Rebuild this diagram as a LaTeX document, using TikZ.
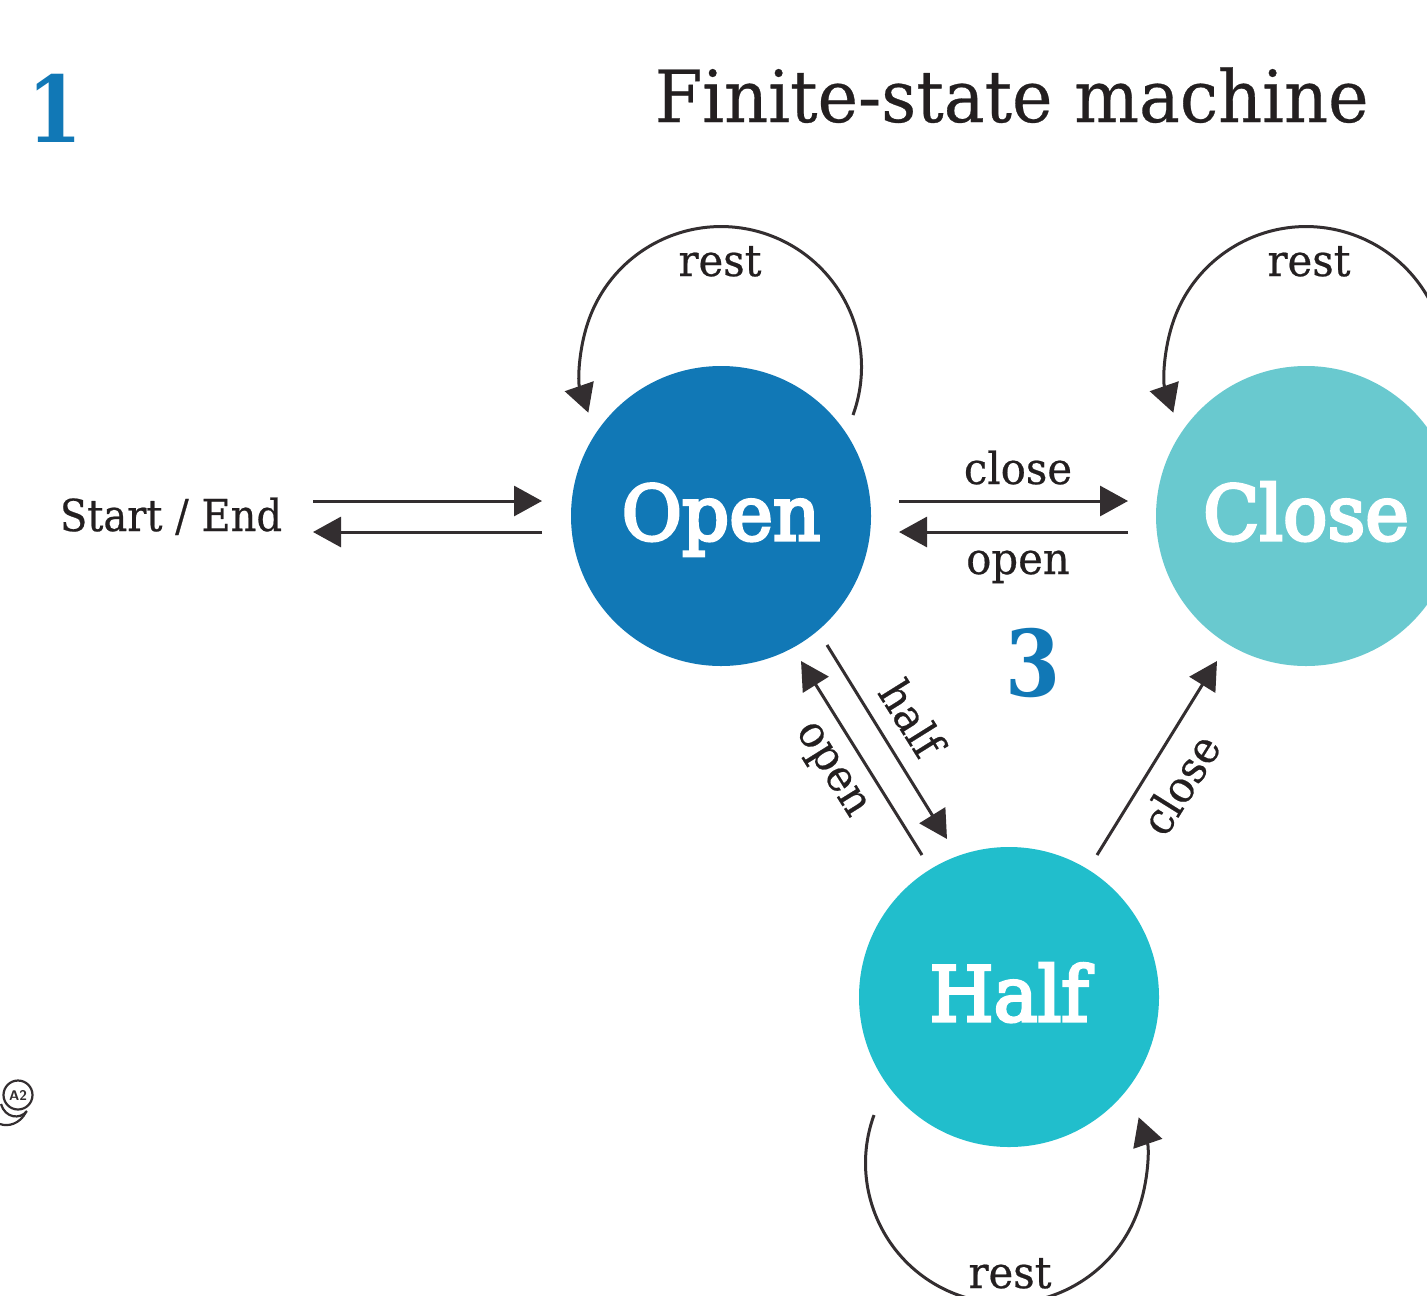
\documentclass[tikz,border=0pt]{standalone}
\usepackage{fontspec}
\setmainfont{DejaVu Serif}
\newfontfamily\titlefont{DejaVu Serif}[FakeStretch=0.95,FakeBold=0.4]
\newfontfamily\labfont{DejaVu Serif}[FakeStretch=0.95,FakeBold=0.5]
\newfontfamily\sefont{DejaVu Serif}[FakeStretch=0.91,FakeBold=0.5]
\newfontfamily\statefont{DejaVu Serif}[FakeBold=4,FakeStretch=0.97]
\newfontfamily\numfont{DejaVu Serif Bold}[FakeStretch=0.86]
\usetikzlibrary{arrows.meta}
\definecolor{ink}{HTML}{332E30}
\definecolor{txt}{HTML}{231F20}
\definecolor{cOpen}{HTML}{1178B6}
\definecolor{cClose}{HTML}{69C9CF}
\definecolor{cHalf}{HTML}{21BECC}
\tikzset{
  statenode/.style={circle,minimum size=150pt,inner sep=0pt,fill=#1},
  statelab/.style={anchor=base,text=white,inner sep=0pt,font=\statefont\fontsize{38}{38}\selectfont},
  conn/.style={draw=ink,line width=1.5pt,-{Triangle[length=14pt,width=15pt,color=ink]}},
  lab/.style={text=txt,inner sep=0pt,anchor=base,font=\labfont\fontsize{22}{22}\selectfont},
  rlab/.style={text=txt,inner sep=0pt,font=\labfont\fontsize{22}{22}\selectfont},
  numlab/.style={text=cOpen,inner sep=0pt,font=\numfont\fontsize{46}{46}\selectfont},
}
\begin{document}
\begin{tikzpicture}[x=0.5pt,y=-0.5pt]
\useasboundingbox (0,0) rectangle (1427,1295);
\clip (0,0) rectangle (1427,1295);
\fill[white] (0,0) rectangle (1427,1295);
\node[anchor=base east,text=txt,inner sep=0pt,font=\titlefont\fontsize{36}{36}\selectfont] (title) at (1369,122) {Finite-state machine};
\node[numlab] (n1) at (55,108) {1};
\node[numlab] (n3) at (1033,663) {3};
\node[statenode=cOpen] (open) at (721,516) {};
\node[statenode=cClose] (close) at (1306,516) {};
\node[statenode=cHalf] (half) at (1009,997) {};
\node[statelab] (topenS) at (721,540) {Open};
\node[statelab] (tcloseS) at (1306,540) {Close};
\node[statelab] (thalfS) at (1009,1021) {Half};
\node[lab,font=\sefont\fontsize{22}{22}\selectfont] (se) at (171,531) {Start / End};
\coordinate (a1) at (313,501); \coordinate (a2) at (542,501);
\coordinate (b1) at (542,532); \coordinate (b2) at (313,532);
\coordinate (c1) at (899,501); \coordinate (c2) at (1128,501);
\coordinate (d1) at (1128,532); \coordinate (d2) at (899,532);
\coordinate (e1) at (827,645); \coordinate (e2) at (947,839);
\coordinate (f1) at (922,855); \coordinate (f2) at (801,661);
\coordinate (g1) at (1097,855); \coordinate (g2) at (1217,661);
\coordinate (l1) at (853,415);
\coordinate (l2) at (1438,415);
\coordinate (l3) at (874,1115);
\draw[conn] (a1) -- (a2);
\draw[conn] (b1) -- (b2);
\draw[conn] (c1) -- (c2);
\draw[conn] (d1) -- (d2);
\draw[conn] (e1) -- (e2);
\draw[conn] (f1) -- (f2);
\draw[conn] (g1) -- (g2);
\draw[conn] (l1) arc[start angle=-20,end angle=199,radius=70.2pt];
\draw[conn] (l2) arc[start angle=-20,end angle=199,radius=70.2pt];
\draw[conn] (l3) arc[start angle=160,end angle=379,radius=70.2pt];
\node[lab] (r1) at (720,276) {rest};
\node[lab] (r2) at (1309,276) {rest};
\node[lab] (r3) at (1010,1288) {rest};
\node[lab] (tclose) at (1018,484) {close};
\node[lab] (topen) at (1018,574) {open};
\node[rlab,rotate=-58] (thalf) at (912,718) {half};
\node[rlab,rotate=-58] (topen2) at (829,771) {open};
\node[rlab,rotate=58] (tclose2) at (1180,784) {close};
\node[draw=ink,circle,line width=1.1pt,minimum size=14.5pt,inner sep=0pt,font=\sffamily\bfseries\fontsize{7}{7}\selectfont,text=ink] (a2icon) at (18,1095) {A2};
\draw[ink,line width=1.1pt] (1,1104) .. controls (5,1118) and (20,1120) .. (27,1111);
\draw[ink,line width=1.1pt] (0,1124) .. controls (8,1127) and (20,1124) .. (26,1112);
\end{tikzpicture}
\end{document}
